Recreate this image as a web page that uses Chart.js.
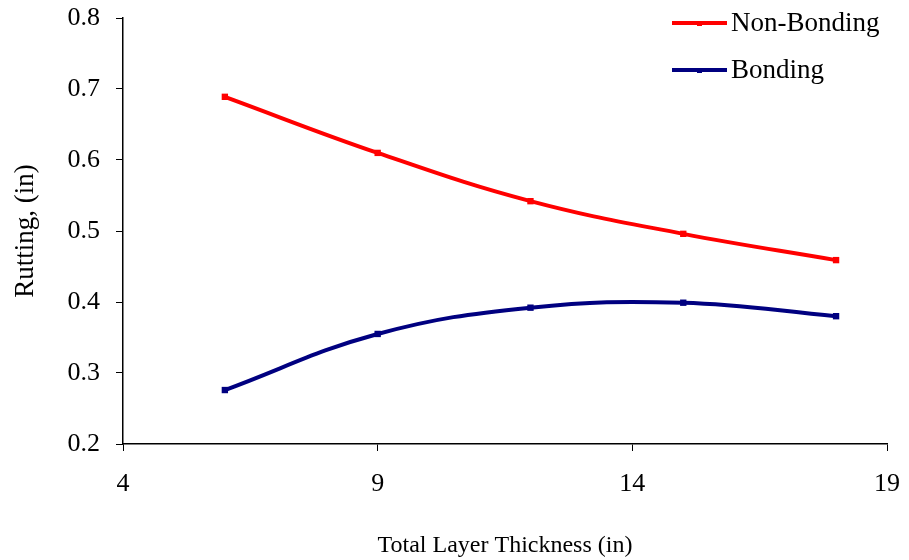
<!DOCTYPE html>
<html>
<head>
<meta charset="utf-8">
<script src="https://cdn.jsdelivr.net/npm/chart.js@4/dist/chart.umd.min.js"></script>
<style>
  html, body { margin: 0; padding: 0; background: #fff; }
  #wrap { width: 909px; height: 560px; }
</style>
</head>
<body>
<div id="wrap"><canvas id="myChart" width="909" height="560"></canvas></div>
<script>
// データ
const thickness = [6, 9, 12, 15, 18];
const nonBonding = [0.689, 0.610, 0.542, 0.496, 0.459];
const bonding = [0.276, 0.355, 0.392, 0.399, 0.380];
const xTicks = [4, 9, 14, 19];
const seriesNames = ['Non-Bonding', 'Bonding'];
const seriesColors = ['#ff0000', '#000080'];

const FONT = '"Liberation Serif", "Times New Roman", serif';

function toPoints(ys) {
    return thickness.map((x, i) => ({ x: x, y: ys[i] }));
}

// 凡例（右上、プロット内）
const legendPlugin = {
    id: 'excelLegend',
    afterDraw(chart) {
        const c = chart.ctx;
        c.save();
        seriesNames.forEach((name, i) => {
            const y = 23 + i * 47;
            c.strokeStyle = seriesColors[i];
            c.lineWidth = 4;
            c.beginPath();
            c.moveTo(672, y);
            c.lineTo(727, y);
            c.stroke();
            c.fillStyle = seriesColors[i];
            c.fillRect(697, y - 2, 5, 5);
            c.fillStyle = '#000';
            c.font = '27px ' + FONT;
            c.textBaseline = 'middle';
            c.fillText(name, 731, y + 1);
        });
        c.restore();
    }
};

const ctx = document.getElementById('myChart').getContext('2d');
new Chart(ctx, {
    type: 'line',
    data: {
        datasets: [
            {
                label: seriesNames[0],
                data: toPoints(nonBonding),
                borderColor: seriesColors[0],
                backgroundColor: seriesColors[0],
                borderWidth: 4,
                tension: 0.4,
                pointStyle: 'rect',
                pointRadius: 4.5,
                pointBorderWidth: 0
            },
            {
                label: seriesNames[1],
                data: toPoints(bonding),
                borderColor: seriesColors[1],
                backgroundColor: seriesColors[1],
                borderWidth: 4,
                tension: 0.4,
                pointStyle: 'rect',
                pointRadius: 4.5,
                pointBorderWidth: 0
            }
        ]
    },
    options: {
        responsive: false,
        animation: false,
        layout: { padding: { top: 18, right: 22, bottom: 0, left: 0 } },
        plugins: {
            legend: { display: false },
            tooltip: { enabled: false }
        },
        scales: {
            x: {
                type: 'linear',
                min: 4,
                max: 19,
                afterBuildTicks: (s) => { s.ticks = xTicks.map(v => ({ value: v })); },
                grid: {
                    drawOnChartArea: false,
                    drawTicks: true,
                    tickLength: 7,
                    color: '#000'
                },
                border: { color: '#000', width: 1.5 },
                ticks: {
                    color: '#000',
                    font: { family: FONT, size: 26 },
                    padding: 18,
                    maxRotation: 0
                },
                title: {
                    display: true,
                    text: 'Total Layer Thickness (in)',
                    color: '#000',
                    font: { family: FONT, size: 24 },
                    padding: { top: 30, bottom: 0 }
                },
                afterFit: (s) => {
                    s.height = 116;
                    s.paddingLeft = 0;
                    s.paddingRight = 0;
                }
            },
            y: {
                min: 0.2,
                max: 0.8,
                ticks: {
                    stepSize: 0.1,
                    color: '#000',
                    font: { family: FONT, size: 26 },
                    padding: 16,
                    callback: (v) => v.toFixed(1)
                },
                grid: {
                    drawOnChartArea: false,
                    drawTicks: true,
                    tickLength: 7,
                    color: '#000'
                },
                border: { color: '#000', width: 1.5 },
                title: {
                    display: true,
                    text: 'Rutting, (in)',
                    color: '#000',
                    font: { family: FONT, size: 27 },
                    padding: { top: 10, bottom: 10 }
                },
                afterFit: (s) => {
                    s.width = 123;
                    s.paddingTop = 0;
                    s.paddingBottom = 0;
                }
            }
        }
    },
    plugins: [legendPlugin]
});
</script>
</body>
</html>
